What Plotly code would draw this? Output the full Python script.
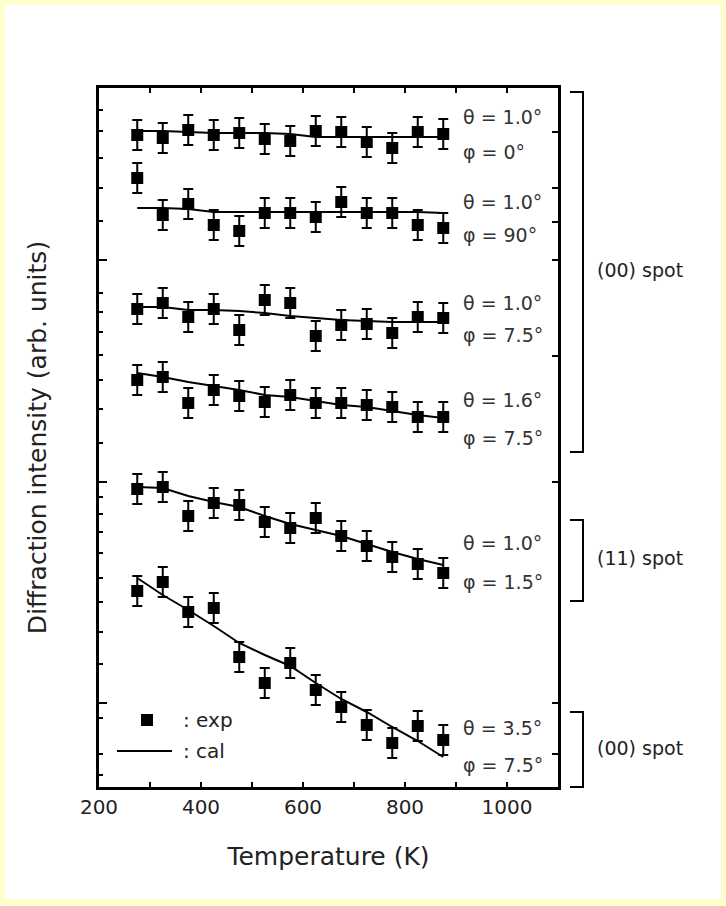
import plotly.graph_objects as go

# ---------------- data ----------------
temperature = [275, 325, 375, 425, 475, 525, 575, 625, 675, 725, 775, 825, 875]

exp_t10_p0 = [652, 649, 657, 652, 654, 648, 646, 656, 655, 645, 639, 655, 653]
cal_t10_p0 = [656, 656, 655, 654, 654, 654, 653, 650, 650, 650, 650, 650, 650]

exp_t10_p90 = [609, 572, 583, 562, 556, 574, 574, 570, 585, 574, 574, 562, 559]
cal_t10_p90 = [579, 579, 578, 575, 575, 575, 575, 575, 575, 575, 575, 575, 574]

exp_t10_p75 = [478, 484, 470, 478, 457, 487, 484, 451, 462, 463, 454, 470, 469]
cal_t10_p75 = [480, 480, 477, 477, 476, 474, 471, 469, 467, 466, 465, 465, 465]

exp_t16_p75 = [407, 410, 384, 397, 391, 385, 392, 384, 384, 382, 380, 370, 370]
cal_t16_p75 = [414, 410, 405, 401, 397, 392, 390, 386, 382, 380, 376, 372, 369]

exp_t10_p15 = [298, 300, 271, 284, 282, 265, 259, 269, 251, 241, 230, 223, 214]
cal_t10_p15 = [300, 299, 291, 285, 280, 271, 263, 257, 251, 243, 235, 228, 222]

exp_t35_p75 = [196, 205, 175, 179, 130, 104, 124, 97, 80, 62, 44, 61, 47]
cal_t35_p75 = [209, 192, 177, 161, 144, 132, 121, 104, 88, 75, 60, 46, 30]

error_half = 15

theta_labels = ["θ = 1.0°", "θ = 1.0°", "θ = 1.0°", "θ = 1.6°", "θ = 1.0°", "θ = 3.5°"]
phi_labels = ["φ = 0°", "φ = 90°", "φ = 7.5°", "φ = 7.5°", "φ = 1.5°", "φ = 7.5°"]
spot_labels = ["(00) spot", "(11) spot", "(00) spot"]

x_tick_values = [200, 300, 400, 500, 600, 700, 800, 900, 1000, 1100]
x_tick_text = ["200", "", "400", "", "600", "", "800", "", "1000", ""]

y_major_ticks = [527, 305, 84]
y_minor_ticks = [677, 656, 629, 599, 566, 494, 475, 455, 432, 407, 378, 344,
                 290, 273, 255, 234, 209, 185, 155, 123, 69, 33, 12]
y_right_ticks = [655, 599, 565, 527, 431, 305, 84, 33]

exp_series = [exp_t10_p0, exp_t10_p90, exp_t10_p75, exp_t16_p75, exp_t10_p15, exp_t35_p75]
cal_series = [cal_t10_p0, cal_t10_p90, cal_t10_p75, cal_t16_p75, cal_t10_p15, cal_t35_p75]

# ---------------- layout geometry ----------------
W, H = 726, 906
ML, MR, MT, MB = 99, 168, 88, 119
PW, PH = W - ML - MR, H - MT - MB


def px_x(px):
    return (px - ML) / PW


def px_y(py):
    return (H - MB - py) / PH


FONT = "DejaVu Sans"
TXT = "#222222"

fig = go.Figure()

for exp, cal in zip(exp_series, cal_series):
    fig.add_trace(go.Scatter(
        x=temperature, y=cal, mode="lines",
        line=dict(color="black", width=2),
        showlegend=False, hoverinfo="skip"))
    fig.add_trace(go.Scatter(
        x=temperature, y=exp, mode="markers",
        marker=dict(symbol="square", size=12, color="black"),
        error_y=dict(type="constant", value=error_half, color="black",
                     thickness=2, width=5),
        showlegend=False))

# dummy trace to carry the right-hand tick axis
fig.add_trace(go.Scatter(x=[], y=[], yaxis="y2", showlegend=False, hoverinfo="skip"))

annotations = []
theta_y = [117, 202, 303, 400, 543, 728]
phi_y = [152, 235, 335, 438, 582, 765]
for tl, pl, ty, py in zip(theta_labels, phi_labels, theta_y, phi_y):
    annotations.append(dict(xref="paper", yref="paper", x=px_x(461), y=px_y(ty),
                            text=tl, showarrow=False, xanchor="left", yanchor="middle",
                            font=dict(family=FONT, size=19, color="#333333")))
    annotations.append(dict(xref="paper", yref="paper", x=px_x(461), y=px_y(py),
                            text=pl, showarrow=False, xanchor="left", yanchor="middle",
                            font=dict(family=FONT, size=19, color="#333333")))

spot_y = [270, 558, 748]
for sl, sy in zip(spot_labels, spot_y):
    annotations.append(dict(xref="paper", yref="paper", x=px_x(595), y=px_y(sy),
                            text=sl, showarrow=False, xanchor="left", yanchor="middle",
                            font=dict(family=FONT, size=19, color=TXT)))

# legend text
annotations.append(dict(xref="paper", yref="paper", x=px_x(181), y=px_y(720),
                        text=": exp", showarrow=False, xanchor="left", yanchor="middle",
                        font=dict(family=FONT, size=20, color=TXT)))
annotations.append(dict(xref="paper", yref="paper", x=px_x(181), y=px_y(751),
                        text=": cal", showarrow=False, xanchor="left", yanchor="middle",
                        font=dict(family=FONT, size=20, color=TXT)))

shapes = []
# white inner panel on the pale-yellow page
shapes.append(dict(type="rect", xref="paper", yref="paper", layer="below",
                   x0=px_x(5), x1=px_x(721), y0=px_y(899), y1=px_y(5),
                   fillcolor="white", line=dict(width=0)))
# brackets
for top, bot in [(92, 452), (520, 601), (712, 787)]:
    path = "M {0} {1} L {2} {1} L {2} {3} L {0} {3}".format(
        px_x(570), px_y(top), px_x(583), px_y(bot))
    shapes.append(dict(type="path", xref="paper", yref="paper", path=path,
                       line=dict(color="black", width=2)))
# legend keys
shapes.append(dict(type="rect", xref="paper", yref="paper",
                   x0=px_x(141), x1=px_x(153), y0=px_y(726), y1=px_y(714),
                   fillcolor="black", line=dict(width=0)))
shapes.append(dict(type="line", xref="paper", yref="paper",
                   x0=px_x(117), x1=px_x(172), y0=px_y(751), y1=px_y(751),
                   line=dict(color="black", width=2)))

fig.update_layout(
    width=W, height=H,
    margin=dict(l=ML, r=MR, t=MT, b=MB, autoexpand=False),
    paper_bgcolor="#FFFFCC",
    plot_bgcolor="white",
    font=dict(family=FONT, color=TXT),
    showlegend=False,
    annotations=annotations,
    shapes=shapes,
    xaxis=dict(
        range=[200, 1100], tickmode="array", tickvals=x_tick_values, ticktext=x_tick_text,
        ticks="inside", ticklen=5, tickwidth=2, tickcolor="black",
        showline=True, linecolor="black", linewidth=2.5, mirror="ticks",
        showgrid=False, zeroline=False, ticklabelstandoff=0,
        tickfont=dict(family=FONT, size=20, color=TXT),
        title=dict(text="Temperature (K)", standoff=30,
                   font=dict(family=FONT, size=25, color=TXT)),
    ),
    yaxis=dict(
        range=[0, PH], tickmode="array", tickvals=y_major_ticks,
        ticks="inside", ticklen=8, tickwidth=2, tickcolor="black",
        minor=dict(tickmode="array", tickvals=y_minor_ticks, ticks="inside",
                   ticklen=4, tickwidth=2, tickcolor="black", showgrid=False),
        showticklabels=False,
        showline=True, linecolor="black", linewidth=2.5, mirror=True,
        showgrid=False, zeroline=False,
        title=dict(text="Diffraction intensity (arb. units)", standoff=43,
                   font=dict(family=FONT, size=25, color=TXT)),
    ),
    yaxis2=dict(
        range=[0, PH], overlaying="y", side="right", anchor="x",
        tickmode="array", tickvals=y_right_ticks,
        ticks="inside", ticklen=6, tickwidth=2, tickcolor="black",
        showticklabels=False, showline=False, showgrid=False, zeroline=False,
    ),
)

fig.write_html("out.html", config={"displayModeBar": False},
               post_script="document.body.style.margin='0';")
